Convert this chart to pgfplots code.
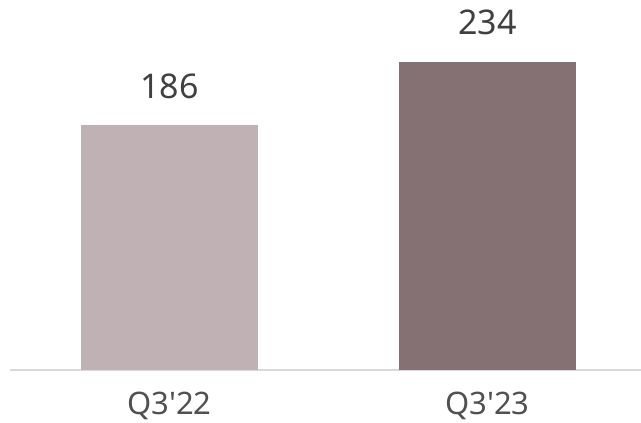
\documentclass[border=0pt]{standalone}
\usepackage{pgfplots}
\pgfplotsset{compat=1.18}
\usepackage{fontspec}
\setmainfont{Noto Sans}
\definecolor{barA}{HTML}{C0B2B4}
\definecolor{barB}{HTML}{857173}
\definecolor{axisgray}{HTML}{D9D9D9}
\definecolor{valtext}{HTML}{404040}
\definecolor{ticktext}{HTML}{505050}
\begin{document}
\begin{tikzpicture}[x=1pt,y=1pt]
\path[use as bounding box] (0,0) rectangle (641,423);
\begin{axis}[
  at={(10pt,53pt)}, anchor=south west,
  scale only axis,
  width=631pt, height=340pt,
  xmin=-0.5016, xmax=1.4827,
  ymin=0, ymax=258.2,
  axis x line=bottom,
  axis y line=none,
  axis line style={draw=axisgray, line width=2pt, -},
  x axis line style={-},
  xtick={0,1},
  xticklabels={Q3\textquotesingle 22,Q3\textquotesingle 23},
  major tick length=0pt,
  xticklabel style={font=\fontsize{31}{37}\selectfont, text=ticktext, anchor=base, yshift=-45pt},
  /pgf/number format/assume math mode=true,
  ybar, bar width=177pt, bar shift=0pt,
  nodes near coords,
  every node near coord/.append style={font=\fontsize{34}{41}\selectfont, text=valtext, anchor=base, yshift=27pt, inner sep=0pt},
  clip=false,
]
\addplot[fill=barA, draw=none] coordinates {(0,186)};
\addplot[fill=barB, draw=none] coordinates {(1,234)};
\end{axis}
\end{tikzpicture}
\end{document}
